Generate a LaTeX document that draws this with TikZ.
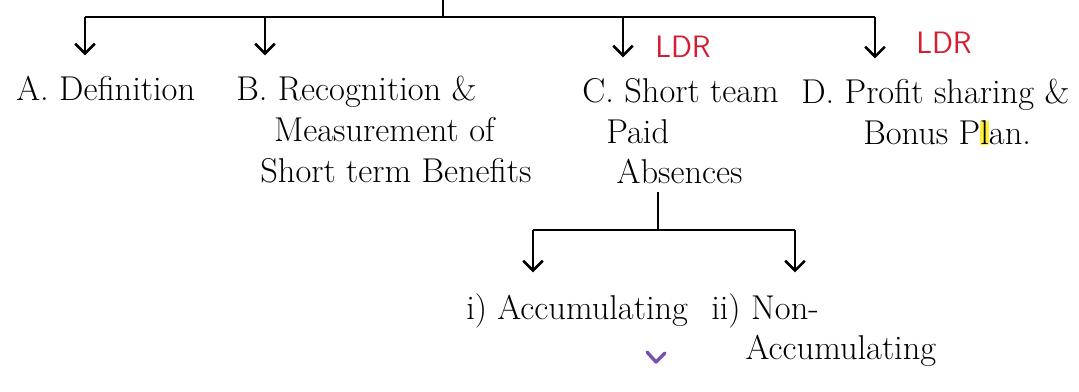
\documentclass[tikz,border=0pt]{standalone}
\usetikzlibrary{arrows.meta,positioning}
\definecolor{ldrred}{RGB}{214,30,50}
\definecolor{tickpurple}{RGB}{120,80,170}
\definecolor{marker}{RGB}{255,240,60}

\begin{document}
\begin{tikzpicture}[
      x=0.025cm, y=-0.025cm,
      line width=1.8pt,
      arr/.style={
        -{Straight Barb[length=7pt,width=14pt]},
        shorten >=14pt
      },
      topic/.style={
        anchor=north west,
        inner sep=0pt,
        align=left,
        font=\fontsize{24.5}{29}\selectfont
      },
      ldr/.style={
        text=ldrred,
        font=\fontsize{22}{24}\selectfont\sffamily
      }
    ]
    \useasboundingbox (0,0) rectangle (1079,391);

    % top level
    \coordinate (Top) at (443,0);
    \coordinate (Hub) at (443,17);
    \coordinate (jA) at (85,17);
    \coordinate (jB) at (265,17);
    \coordinate (jC) at (623,17);
    \coordinate (jD) at (875,17);

    \node[topic] (Definition) at (15,75) {A. Definition};
    \node[topic] (Recognition) at (235,75)
      {B. Recognition \&\\
      \hspace*{1.1em}Measurement of\\
      \hspace*{0.7em}Short term Benefits};
    \node[topic] (Absences) at (581,77)
      {C. Short team\\
      \hspace*{0.7em}Paid\\
      \hspace*{1em}Absences};
    \node[topic] (Profit) at (800,78)
      {D. Profit sharing \&\\
      \hspace*{1.8em}Bonus P{\setlength\fboxsep{0pt}\colorbox{marker}{l}}an.};

    \node[ldr] (LdrC) at (683,47) {LDR};
    \node[ldr] (LdrD) at (944,43) {LDR};

    \draw (Top) -- (Hub);
    \draw (jA) -- (jD);
    \draw[arr] (jA) -- (jA |- Definition.north);
    \draw[arr] (jB) -- (jB |- Recognition.north);
    \draw[arr] (jC) -- (jC |- Absences.north);
    \draw[arr] (jD) -- (jD |- Profit.north);

    % paid absences
    \coordinate (Sub) at (658,230);
    \coordinate (jI) at (533,230);
    \coordinate (jII) at (795,230);

    \node[topic] (Accumulating) at (465,292) {i) Accumulating};
    \node[topic] (NonAccumulating) at (710,292)
      {ii) Non-\\
      \hspace*{1em}Accumulating};

    \draw[shorten <=5pt] (Sub |- Absences.south) -- (Sub);
    \draw (jI) -- (jII);
    \draw[arr] (jI) -- (jI |- Accumulating.north);
    \draw[arr] (jII) -- (jII |- NonAccumulating.north);

    \draw[tickpurple, line width=2.4pt, line cap=round, line join=round]
      (647,352) -- (656,362) -- (665,353);
  \end{tikzpicture}
\end{document}
